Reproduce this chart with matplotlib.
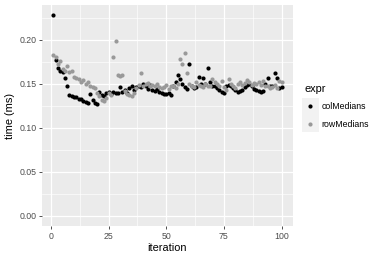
import matplotlib

matplotlib.use("Agg")

import matplotlib.pyplot as plt
from matplotlib.lines import Line2D
from matplotlib.patches import Rectangle
from matplotlib.ticker import MultipleLocator

plt.rcParams["font.family"] = ["Liberation Sans", "DejaVu Sans"]

iterations = list(range(1, 101))

col_medians = [
    0.228, 0.177, 0.168, 0.165, 0.163, 0.157, 0.147, 0.137, 0.136, 0.135,
    0.135, 0.133, 0.133, 0.131, 0.129, 0.128, 0.138, 0.132, 0.128, 0.127,
    0.141, 0.137, 0.136, 0.140, 0.141, 0.138, 0.141, 0.140, 0.139, 0.146,
    0.141, 0.143, 0.140, 0.145, 0.147, 0.143, 0.146, 0.148, 0.146, 0.150,
    0.147, 0.144, 0.149, 0.143, 0.142, 0.144, 0.141, 0.139, 0.138, 0.138,
    0.139, 0.137, 0.147, 0.152, 0.160, 0.155, 0.150, 0.146, 0.144, 0.173,
    0.147, 0.145, 0.146, 0.158, 0.150, 0.156, 0.150, 0.168, 0.152, 0.148,
    0.147, 0.145, 0.143, 0.141, 0.140, 0.147, 0.149, 0.147, 0.145, 0.143,
    0.141, 0.142, 0.143, 0.146, 0.149, 0.150, 0.147, 0.144, 0.143, 0.142,
    0.141, 0.142, 0.150, 0.157, 0.148, 0.147, 0.162, 0.156, 0.145, 0.146,
]

row_medians = [
    0.183, 0.180, 0.172, 0.176, 0.167, 0.165, 0.170, 0.163, 0.165, 0.158,
    0.157, 0.155, 0.152, 0.154, 0.150, 0.152, 0.147, 0.146, 0.145, 0.140,
    0.136, 0.132, 0.130, 0.134, 0.139, 0.137, 0.180, 0.199, 0.160, 0.159,
    0.160, 0.142, 0.138, 0.137, 0.136, 0.140, 0.145, 0.149, 0.162, 0.147,
    0.150, 0.151, 0.147, 0.149, 0.148, 0.150, 0.146, 0.145, 0.146, 0.149,
    0.144, 0.147, 0.148, 0.145, 0.150, 0.178, 0.173, 0.185, 0.162, 0.150,
    0.148, 0.146, 0.152, 0.149, 0.147, 0.146, 0.150, 0.148, 0.147, 0.155,
    0.152, 0.150, 0.148, 0.153, 0.146, 0.143, 0.155, 0.150, 0.148, 0.145,
    0.150, 0.152, 0.149, 0.151, 0.154, 0.152, 0.149, 0.151, 0.150, 0.152,
    0.149, 0.153, 0.148, 0.147, 0.145, 0.146, 0.149, 0.145, 0.153, 0.152,
]

series = [("colMedians", col_medians, "#000000"), ("rowMedians", row_medians, "#999999")]

fig = plt.figure(figsize=(3.9, 2.6), dpi=100)
ax = fig.add_axes([0.1074, 0.1308, 0.6439, 0.85])
ax.set_facecolor("#EBEBEB")
for spine in ax.spines.values():
    spine.set_visible(False)

for name, values, colour in series:
    ax.scatter(iterations, values, s=9, color=colour, linewidths=0, zorder=3)

x_span = 99 * 0.05
ax.set_xlim(1 - x_span, 100 + x_span)
y_max = max(col_medians + row_medians)
ax.set_ylim(-y_max * 0.05, y_max * 1.05)

ax.xaxis.set_major_locator(MultipleLocator(25))
ax.xaxis.set_minor_locator(MultipleLocator(12.5))
ax.yaxis.set_major_locator(MultipleLocator(0.05))
ax.yaxis.set_minor_locator(MultipleLocator(0.025))
ax.yaxis.set_major_formatter(lambda v, pos: f"{v:.2f}")
ax.grid(which="major", color="white", linewidth=0.9, zorder=0)
ax.grid(which="minor", color="white", linewidth=0.45, zorder=0)
ax.set_axisbelow(True)
ax.tick_params(which="major", length=2.5, width=0.6, color="#333333",
               labelsize=6.3, labelcolor="#4D4D4D", pad=1.5)
ax.tick_params(which="minor", length=0)

ax.set_xlabel("iteration", fontsize=7.9, labelpad=2)
ax.set_ylabel("time (ms)", fontsize=7.9, labelpad=3)

handles = [
    Line2D([0], [0], marker="o", linestyle="None", markersize=3.0,
           markerfacecolor=colour, markeredgewidth=0, label=name)
    for name, values, colour in series
]
legend = fig.legend(handles=handles, title="expr", loc="upper left",
                    bbox_to_anchor=(0.773, 0.69), frameon=False,
                    fontsize=6.3, title_fontsize=7.9, handlelength=1.2,
                    handletextpad=0.7, labelspacing=0.95, borderaxespad=0)
legend._legend_box.align = "left"

# grey key boxes behind the legend markers, like ggplot's legend.key
fig.canvas.draw()
inv = fig.transFigure.inverted()
key_w = 17 / 390
key_h = 17 / 260
for handle in legend.legend_handles:
    bbox = handle.get_window_extent(fig.canvas.get_renderer())
    cx, cy = inv.transform(((bbox.x0 + bbox.x1) / 2, (bbox.y0 + bbox.y1) / 2))
    fig.patches.append(Rectangle((cx - key_w / 2, cy - key_h / 2), key_w, key_h,
                                 transform=fig.transFigure, facecolor="#F2F2F2",
                                 edgecolor="none", zorder=0))

fig.savefig("out.png", dpi=100)
